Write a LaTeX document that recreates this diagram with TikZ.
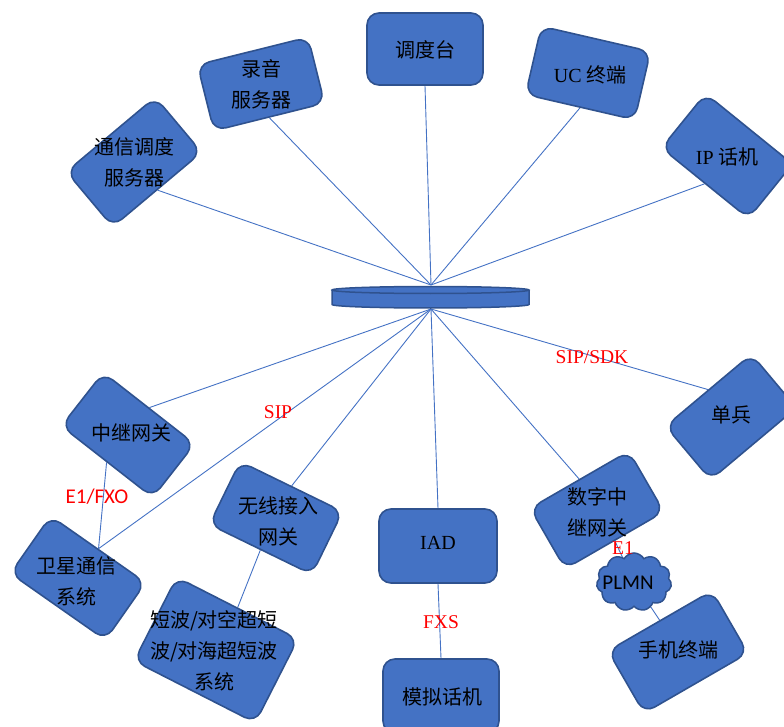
\documentclass[tikz,border=0pt]{standalone}
\usepackage{fontspec}
\setmainfont{Liberation Serif}
\newfontfamily\cjk{Noto Sans CJK SC}
\newfontfamily\calib{Carlito}
\usetikzlibrary{shapes.symbols,backgrounds}
\definecolor{bfill}{HTML}{4472C4}
\definecolor{bdraw}{HTML}{2F528F}
\tikzset{
  box/.style={rectangle, draw=bdraw, fill=bfill, line width=1.6pt, rounded corners=12pt, inner sep=0pt},
  txt/.style={font=\cjk\fontsize{20}{31}\selectfont, align=center, text=black, inner sep=0pt},
  conn/.style={draw=bfill, line width=0.9pt},
  lab/.style={text=red, font=\fontsize{19.5}{24}\selectfont, inner sep=0pt},
  hubline/.style={draw=bdraw, line width=1.5pt}
}
\begin{document}
\begin{tikzpicture}[x=1pt,y=-1pt]
\useasboundingbox (0,0) rectangle (784,727);
\clip (0,0) rectangle (784,727);
% boxes
\node[box, minimum width=116, minimum height=72] (ddt) at (425,49) {};
\node[box, rotate=14, minimum width=114, minimum height=68] (lyb) at (261,84) {};
\node[box, rotate=40, minimum width=116, minimum height=72] (txd) at (134,162) {};
\node[box, rotate=-13, minimum width=112, minimum height=70] (uc) at (588,73) {};
\node[box, rotate=-39, minimum width=112, minimum height=70] (ip) at (727,156) {};
\node[box, rotate=-38, minimum width=116, minimum height=68] (zj) at (128,435) {};
\node[box, rotate=-35, minimum width=116, minimum height=70] (wx) at (78,578) {};
\node[box, rotate=-26, minimum width=114, minimum height=70] (wl) at (276,518) {};
\node[box, rotate=-27, minimum width=136, minimum height=94] (dbo) at (216,650) {};
\node[box, minimum width=118, minimum height=74] (iad) at (438,546) {};
\node[box, minimum width=116, minimum height=74] (mn) at (441,696) {};
\node[box, rotate=30, minimum width=114, minimum height=70] (sz) at (597,510) {};
\node[box, rotate=30, minimum width=120, minimum height=72] (sj) at (678,652) {};
\node[box, rotate=40, minimum width=112, minimum height=70] (db) at (731,417) {};
\node[cloud, cloud puffs=11, cloud puff arc=120, aspect=1.3, draw=bdraw, fill=bfill, line width=1.5pt, minimum width=75, minimum height=58, inner sep=0pt] (plmn) at (634,582) {};
% hub
\coordinate (hubT) at (431,285);
\coordinate (hubB) at (431,309);
\fill[bfill] (332,290) -- (332,304.5) arc[start angle=180, end angle=0, x radius=98.5, y radius=3.5] -- (529,290) -- cycle;
\draw[hubline] (332,290) -- (332,304.5) arc[start angle=180, end angle=0, x radius=98.5, y radius=3.5] -- (529,290);
\draw[hubline, fill=bfill] (430.5,290) ellipse[x radius=98.5, y radius=3.5];
% connectors
\begin{scope}[on background layer]
\draw[conn] (ddt.south) -- (hubT);
\draw[conn] (lyb.south) -- (hubT);
\draw[conn] (txd.south) -- (hubT);
\draw[conn] (uc.south) -- (hubT);
\draw[conn] (ip.south) -- (hubT);
\draw[conn] (hubB) -- (zj.north);
\draw[conn] (hubB) -- (wx.north);
\draw[conn] (zj.south) -- (wx.north);
\draw[conn] (hubB) -- (wl.north);
\draw[conn] (wl.south) -- (dbo.north);
\draw[conn] (hubB) -- (iad.north);
\draw[conn] (iad.south) -- (mn.north);
\draw[conn] (hubB) -- (sz.north);
\draw[conn] (sz.south) -- (plmn.center) -- (sj.north);
\draw[conn] (hubB) -- (db.north);
\end{scope}
% texts
\node[txt] (tddt) at (425,50) {调度台};
\node[txt] (tlyb) at (261,84) {录音\\服务器};
\node[txt] (ttxd) at (134,162) {通信调度\\服务器};
\node[txt] (tuc) at (590,75) {{\rmfamily UC} 终端};
\node[txt] (tip) at (727,157) {{\rmfamily IP} 话机};
\node[txt] (tzj) at (131,433) {中继网关};
\node[txt] (twx) at (76,581) {卫星通信\\系统};
\node[txt] (twl) at (278,521) {无线接入\\网关};
\node[txt] (tdbo) at (214,651) {短波/对空超短\\波/对海超短波\\系统};
\node[txt, font=\fontsize{20}{24}\selectfont] (tiad) at (438,543) {IAD};
\node[txt] (tmn) at (442,697) {模拟话机};
\node[txt] (tsz) at (597,512) {数字中\\继网关};
\node[txt] (tsj) at (678,650) {手机终端};
\node[txt] (tdb) at (731,415) {单兵};
\node[txt, font=\calib\fontsize{21}{24}\selectfont] (tplmn) at (628,583) {PLMN};
% labels
\node[lab] (lsdk) at (592,357) {SIP/SDK};
\node[lab] (lsip) at (278,412) {SIP};
\node[lab, font=\calib\fontsize{21}{24}\selectfont] (lfxo) at (97,497) {E1/FXO};
\node[lab] (lfxs) at (441,622) {FXS};
\node[lab] (le1) at (623,548) {E1};
\end{tikzpicture}
\end{document}
